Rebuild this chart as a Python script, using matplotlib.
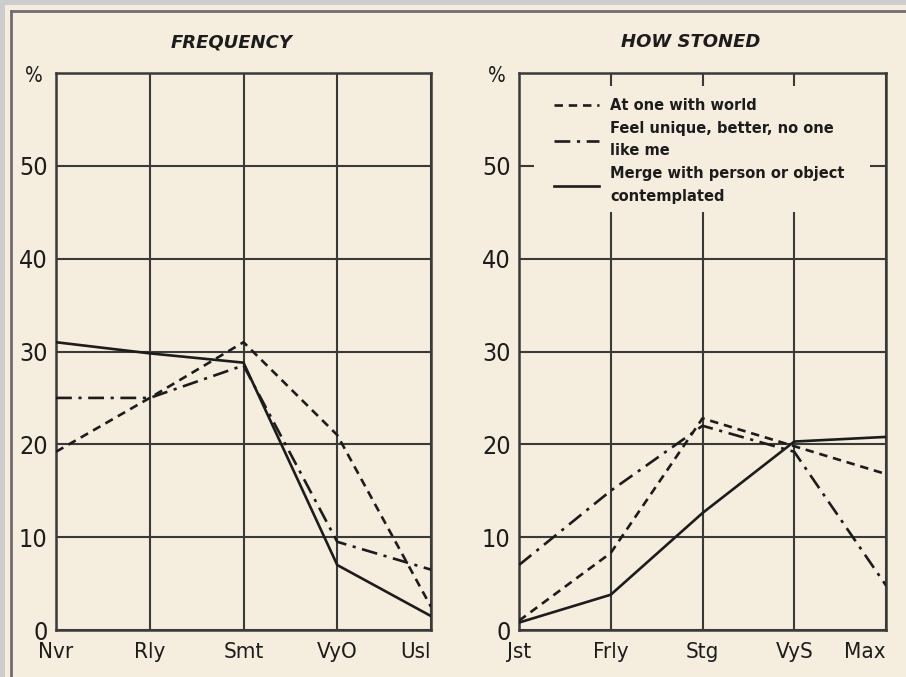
import matplotlib
matplotlib.use("Agg")
import matplotlib.pyplot as plt
from matplotlib.patches import Rectangle
from matplotlib.lines import Line2D

# categories on each panel
freq_labels = ["Nvr", "Rly", "Smt", "VyO", "Usl"]
stoned_labels = ["Jst", "Frly", "Stg", "VyS", "Max"]

# percentages, frequency panel
freq_one_with_world = [19.2, 25, 31, 21, 2.5]
freq_feel_unique = [25, 25, 28.5, 9.5, 6.5]
freq_merge = [31, 29.8, 28.8, 7, 1.5]

# percentages, how-stoned panel
stoned_one_with_world = [1, 8.3, 22.8, 19.8, 16.8]
stoned_feel_unique = [7, 15, 22, 19.2, 4.8]
stoned_merge = [0.8, 3.8, 12.6, 20.3, 20.8]

series_names = ["At one with world",
                "Feel unique, better, no one\nlike me",
                "Merge with person or object\ncontemplated"]

paper = "#f5eede"
ink = "#1c1c1c"
grid_ink = "#3a3a3a"
tick_font = dict(family="DejaVu Sans", stretch="condensed")

styles = [dict(linestyle=(0, (3.2, 2.2))),
          dict(linestyle=(0, (6, 2.5, 1.2, 2.5))),
          dict(linestyle="-")]

fig = plt.figure(figsize=(9.06, 6.77), dpi=100, facecolor=paper)

# grey mount and dark frame line along top and left
fig.patches.append(Rectangle((0, 1 - 5 / 677), 1, 5 / 677, transform=fig.transFigure,
                             facecolor="#cdcdcd", edgecolor="none", zorder=0))
fig.patches.append(Rectangle((0, 0), 5 / 906, 1, transform=fig.transFigure,
                             facecolor="#cdcdcd", edgecolor="none", zorder=0))
fig.lines.append(Line2D([11 / 906, 1], [1 - 11 / 677, 1 - 11 / 677], transform=fig.transFigure,
                        color="#6e6e6e", linewidth=2))
fig.lines.append(Line2D([11 / 906, 11 / 906], [0, 1 - 11 / 677], transform=fig.transFigure,
                        color="#6e6e6e", linewidth=2))

ax1 = fig.add_axes([56 / 906, 47 / 677, 375 / 906, 557 / 677])
ax2 = fig.add_axes([519 / 906, 47 / 677, 367 / 906, 557 / 677])


def setup(ax, labels, title):
    ax.set_facecolor(paper)
    ax.set_xlim(0, len(labels) - 1)
    ax.set_ylim(0, 60)
    ax.set_xticks(range(len(labels)))
    ax.set_xticklabels(labels, fontsize=16, **tick_font)
    ax.set_yticks([0, 10, 20, 30, 40, 50, 60])
    ax.set_yticklabels(["0", "10", "20", "30", "40", "50", ""], fontsize=18, **tick_font)
    ax.tick_params(length=0, colors=ink)
    ax.tick_params(axis="x", pad=9)
    ax.tick_params(axis="y", pad=6)
    ax.xaxis.get_majorticklabels()[-1].set_horizontalalignment("right")
    ax.grid(True, color=grid_ink, linewidth=1.5)
    for sp in ax.spines.values():
        sp.set_color(grid_ink)
        sp.set_linewidth(1.8)
    ax.text(-0.035, 0.995, "%", transform=ax.transAxes, ha="right", va="center",
            fontsize=15, color=ink, **tick_font)
    ax.text(0.468, 1.055, title, transform=ax.transAxes, ha="center", va="center",
            fontsize=13, fontweight="bold", fontstyle="italic", color=ink)


setup(ax1, freq_labels, "FREQUENCY")
setup(ax2, stoned_labels, "HOW STONED")

x = range(5)
for vals, st in zip([freq_one_with_world, freq_feel_unique, freq_merge], styles):
    ax1.plot(x, vals, color=ink, linewidth=1.9, zorder=3, **st)

handles = []
for vals, st, name in zip([stoned_one_with_world, stoned_feel_unique, stoned_merge],
                          styles, series_names):
    ln, = ax2.plot(x, vals, color=ink, linewidth=1.9, zorder=3, label=name, **st)
    handles.append(ln)

# blank panel behind the key so the grid stops around it
ax2.add_patch(Rectangle((0.04, 0.75), 0.917, 0.227, transform=ax2.transAxes,
                        facecolor=paper, edgecolor="none", zorder=1.8))
leg = ax2.legend(handles=handles, loc="upper left", bbox_to_anchor=(0.095, 0.955),
                 frameon=False, borderpad=0, borderaxespad=0, handlelength=3.1,
                 handletextpad=0.75, labelspacing=0.55,
                 prop=dict(family="DejaVu Sans", weight="bold", size=10.5))
for t in leg.get_texts():
    t.set_color(ink)
    t.set_linespacing(1.6)

fig.savefig("out.png", dpi=100, facecolor=paper)
